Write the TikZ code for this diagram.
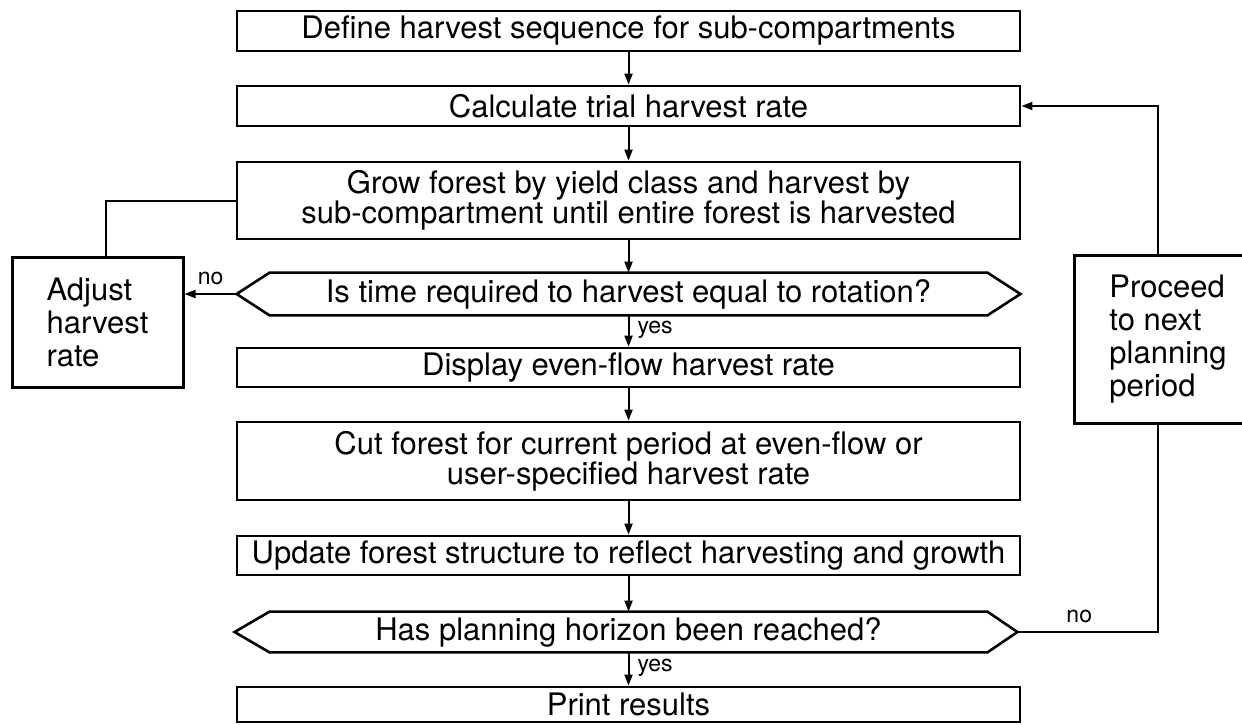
\documentclass[tikz,border=0pt]{standalone}
\usepackage{fontspec}
\setmainfont{TeX Gyre Heros}
\usetikzlibrary{arrows.meta,calc}
\begin{document}
\begin{tikzpicture}[x=0.5pt,y=-0.5pt,
  txt/.style={font=\fontsize{15.5}{15}\selectfont},
  sidetxt/.style={font=\fontsize{15.5}{16.5}\selectfont},
  lbl/.style={font=\fontsize{11.5}{12}\selectfont, inner sep=1pt},
  procbox/.style={draw, line width=1.4pt, txt, minimum width=391.5pt, align=center, inner sep=0pt},
  decbox/.style={txt, minimum width=358.5pt, inner sep=0pt, align=center},
  sidebox/.style={draw, line width=1.5pt, sidetxt, align=left, inner sep=0pt},
  decline/.style={line width=1.3pt, line join=miter},
  link/.style={line width=1pt},
  arr/.style={link, -{Triangle[length=5.5pt,width=4pt]}},
]
\useasboundingbox (0,0) rectangle (1242,724);

% main column of steps
\node[procbox, minimum height=20pt] (B1) at (628.5,31) {Define harvest sequence for sub-compartments};
\node[procbox, minimum height=20pt] (B2) at (628.5,106) {Calculate trial harvest rate};
\node[procbox, minimum height=38.5pt] (B3) at (628.5,200.5) {Grow forest by yield class and harvest by\\sub-compartment until entire forest is harvested};
\node[decbox, minimum height=21pt] (D1) at (628.5,294) {Is time required to harvest equal to rotation?};
\node[procbox, minimum height=19.5pt] (B5) at (628.5,367.5) {Display even-flow harvest rate};
\node[procbox, minimum height=39pt] (B6) at (628.5,461) {Cut forest for current period at even-flow or\\user-specified harvest rate};
\node[procbox, minimum height=19.5pt] (B7) at (628.5,555.5) {Update forest structure to reflect harvesting and growth};
\node[decbox, minimum height=20pt] (D2) at (628.5,632) {Has planning horizon been reached?};
\node[procbox, minimum height=17.5pt] (B9) at (628.5,704.5) {Print results};

% decision outlines (pointed ends)
\coordinate (D1l) at ($(D1.west)+(-33,0)$);
\coordinate (D1r) at ($(D1.east)+(33,0)$);
\coordinate (D2l) at ($(D2.west)+(-35,0)$);
\coordinate (D2r) at ($(D2.east)+(30,0)$);
\draw[decline] (D1l) -- (D1.north west) -- (D1.north east) -- (D1r) -- (D1.south east) -- (D1.south west) -- cycle;
\draw[decline] (D2l) -- (D2.north west) -- (D2.north east) -- (D2r) -- (D2.south east) -- (D2.south west) -- cycle;

% side boxes
\node[sidebox, minimum width=85.5pt, minimum height=65pt] (A) at (97.5,322) {Adjust\\harvest\\rate};
\node[sidebox, minimum width=94pt, minimum height=84pt] (P) at (1168,339) {Proceed\\to next\\planning\\period};

% main flow
\draw[arr] (B1) -- (B2);
\draw[arr] (B2) -- (B3);
\draw[arr] (B3) -- (D1);
\draw[arr] (D1) -- node[lbl, right=3pt, pos=0.45] {yes} (B5);
\draw[arr] (B5) -- (B6);
\draw[arr] (B6) -- (B7);
\draw[arr] (B7) -- (D2);
\draw[arr] (D2) -- node[lbl, right=3pt, pos=0.45] {yes} (B9);

% inner loop: adjust rate and regrow
\draw[arr] (D1l) -- node[lbl, above=3pt] {no} (A.east |- D1l);
\draw[link] ([xshift=4pt]A.north) |- (B3.west);

% outer loop: next planning period
\draw[link] (D2r) -| node[lbl, above=3pt, pos=0.22] {no} ([xshift=-5pt]P.south);
\draw[arr] ([xshift=-5pt]P.north) |- (B2.east);
\end{tikzpicture}
\end{document}
